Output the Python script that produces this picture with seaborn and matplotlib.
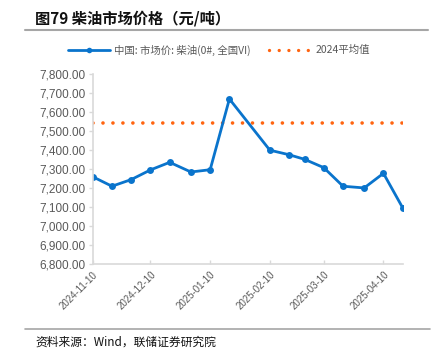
import matplotlib
matplotlib.use("Agg")
import matplotlib.pyplot as plt
import matplotlib.dates as mdates
from matplotlib.lines import Line2D
import seaborn as sns
import pandas as pd

sns.set_theme(style="white")
plt.rcParams['font.family'] = ['Liberation Sans', 'Noto Sans CJK SC', 'DejaVu Sans']

dates = ["2024-11-10", "2024-11-20", "2024-11-30", "2024-12-10", "2024-12-20", "2024-12-31",
         "2025-01-10", "2025-01-20", "2025-02-10", "2025-02-20", "2025-02-28", "2025-03-10",
         "2025-03-20", "2025-03-31", "2025-04-10", "2025-04-20"]
price = [7260, 7210, 7245, 7296, 7336, 7285, 7297, 7670, 7400, 7376, 7352, 7308,
         7210, 7201, 7278, 7096]
avg_2024 = 7543
tick_dates = ["2024-11-10", "2024-12-10", "2025-01-10", "2025-02-10", "2025-03-10", "2025-04-10"]
series_name = "中国: 市场价: 柴油(0#, 全国VI)"
avg_name = "2024平均值"

blue = "#0A74CC"
orange = "#FF6410"
gray_txt = "#595959"

df = pd.DataFrame({"date": pd.to_datetime(dates), "price": price})
df_avg = pd.DataFrame({"date": pd.to_datetime([dates[0], dates[-1]]), "avg": [avg_2024, avg_2024]})

fig = plt.figure(figsize=(4.38, 3.6), dpi=100)
ax = fig.add_axes([92.7/438, 1-264/360, (402.7-92.7)/438, (264-74.3)/360])

sns.lineplot(data=df_avg, x="date", y="avg", ax=ax, color=orange, linewidth=2.6,
             linestyle=(0, (0.01, 2.75)), dash_capstyle='round', legend=False)
sns.lineplot(data=df, x="date", y="price", ax=ax, color=blue, linewidth=2.0,
             marker="o", markersize=5, markeredgewidth=0, legend=False)

ax.set_xlim(pd.Timestamp(dates[0]), pd.Timestamp(dates[-1]))
ax.set_ylim(6800, 7800)
ax.set_yticks(range(6800, 7801, 100))
ax.set_yticklabels([f"{v:,.2f}" for v in range(6800, 7801, 100)], fontsize=8.5, color=gray_txt)
ax.set_xticks(pd.to_datetime(tick_dates))
ax.set_xticklabels(tick_dates, rotation=45, ha="right", rotation_mode="anchor",
                   fontsize=7, color=gray_txt)
ax.set_xlabel("")
ax.set_ylabel("")

for s in ["top", "right"]:
    ax.spines[s].set_visible(False)
for s in ["left", "bottom"]:
    ax.spines[s].set_color("#D9D9D9")
    ax.spines[s].set_linewidth(1.2)
ax.tick_params(axis="y", direction="out", length=3, width=1, color="#D9D9D9", pad=2, left=True)
ax.tick_params(axis="x", direction="in", length=3, width=1, color="#D9D9D9", pad=4, bottom=True)
ax.grid(False)

h_blue = Line2D([0, 0.5, 1], [0, 0, 0], color=blue, lw=2, marker="o", markersize=4,
                markevery=[1], markeredgewidth=0)
h_orange = Line2D([0], [0], color=orange, lw=2.4, linestyle=(0, (0.01, 2.9)), dash_capstyle='round')
leg = fig.legend([h_blue, h_orange], [series_name, avg_name], loc="center",
                 bbox_to_anchor=(0.5, 1-50/360), bbox_transform=fig.transFigure,
                 ncol=2, frameon=False, handlelength=4.0, columnspacing=1.8,
                 handletextpad=0.4, prop={'family': ['Noto Sans CJK SC'], 'size': 7.5})
for t in leg.get_texts():
    t.set_color(gray_txt)

fig.text(35/438, 1-18/360, "图79 柴油市场价格（元/吨）", fontsize=11, fontweight="bold",
         va="center", ha="left", family=['Noto Sans CJK SC'], color="#111111")
fig.add_artist(Line2D([25/438, 428/438], [1-30/360, 1-30/360], color="#A6A6A6", lw=1.5,
                      transform=fig.transFigure))
fig.add_artist(Line2D([25/438, 430/438], [1-329/360, 1-329/360], color="#A6A6A6", lw=1.2,
                      transform=fig.transFigure))
fig.text(35/438, 1-342/360, "资料来源：Wind，联储证券研究院", fontsize=8.5, va="center", ha="left",
         family=['Noto Sans CJK SC', 'Liberation Sans'], color="#111111")

fig.savefig("out.png", dpi=100)
